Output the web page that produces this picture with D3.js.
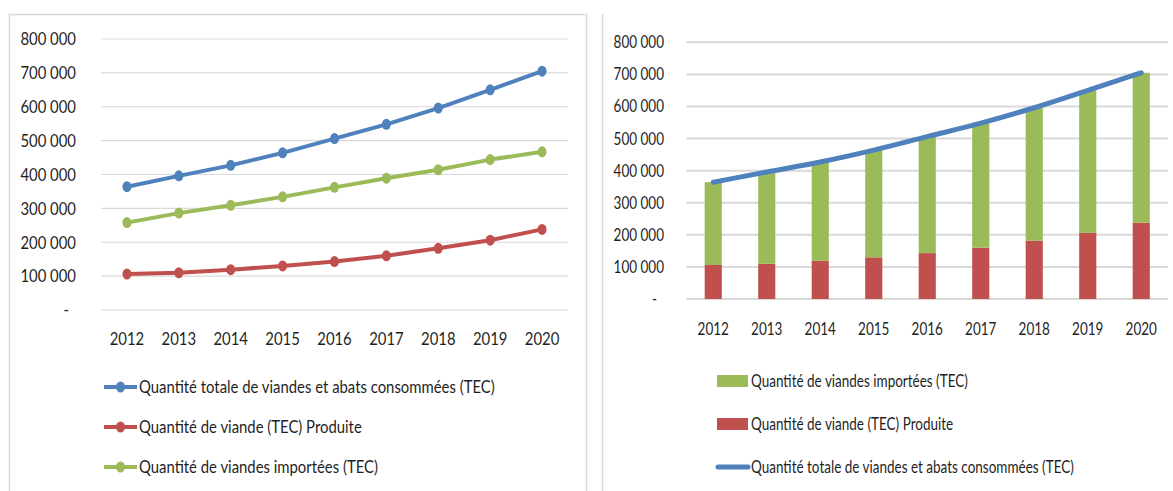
<!DOCTYPE html>
<html>
<head>
<meta charset="utf-8">
<script src="https://cdn.jsdelivr.net/npm/d3@7"></script>
<style>
  body { margin: 0; background: #fff; }
  text { font-family: Lato, "Liberation Sans", sans-serif; fill: #1f1f1f; }
</style>
</head>
<body>
<div id="chart"></div>
<script>
// Data
var years = ["2012", "2013", "2014", "2015", "2016", "2017", "2018", "2019", "2020"];
var totalConsumed = [364000, 396000, 427000, 464000, 506000, 548000, 596000, 650000, 705000];
var produced = [106000, 110000, 119000, 130000, 143000, 160000, 182000, 206000, 238000];
var imported = [258000, 286000, 309000, 334000, 362000, 389000, 414000, 444000, 467000];
var yTicks = [0, 100000, 200000, 300000, 400000, 500000, 600000, 700000, 800000];

var labelTotal = "Quantité totale de viandes et abats consommées (TEC)";
var labelProduced = "Quantité de viande (TEC) Produite";
var labelImported = "Quantité de viandes importées (TEC)";

var blue = "#4f81bd", red = "#c0504d", green = "#9bbb59", grid = "#d9d9d9";

var locale = d3.formatLocale({decimal: ",", thousands: " ", grouping: [3], currency: ["", ""]});
var fmt = locale.format(",d");
function tickText(d) { return d === 0 ? "-" : fmt(d); }

var svg = d3.select('#chart').append('svg')
    .attr('width', 1173)
    .attr('height', 491);

// the source font is a squeezed narrow face: measure and squeeze ours to match
function squeezeFor(str, size, target) {
    var t = svg.append('text').style('font-size', size + 'px').text(str);
    var w = t.node().getComputedTextLength();
    t.remove();
    return target / w;
}
var sizeL = 18, sizeR = 17;
var sxL = squeezeFor(labelTotal, sizeL, 356);
var sxR = squeezeFor(labelTotal, sizeR, 323);

function addText(g, x, y, str, size, sx, anchor) {
    return g.append('text')
        .attr('transform', 'translate(' + x + ',' + y + ') scale(' + sx + ',1)')
        .attr('dy', '0.35em')
        .attr('text-anchor', anchor || 'start')
        .style('font-size', size + 'px')
        .text(str);
}

// ---------- left chart: lines with markers ----------
var left = svg.append('g');

left.append('rect')
    .attr('x', 9.5).attr('y', 14.5)
    .attr('width', 577).attr('height', 500)
    .attr('fill', 'none')
    .attr('stroke', '#d9d9d9')
    .attr('stroke-width', 1.5);

var xL = d3.scaleBand().domain(years).range([101, 568]);
var yL = d3.scaleLinear().domain([0, 800000]).range([310, 39]);

left.selectAll('.gridL')
    .data(yTicks)
    .enter()
    .append('line')
    .attr('x1', 101).attr('x2', 568)
    .attr('y1', function(d) { return yL(d); })
    .attr('y2', function(d) { return yL(d); })
    .attr('stroke', grid)
    .attr('stroke-width', 1.2);

yTicks.forEach(function(d) {
    addText(left, d === 0 ? 69 : 76, yL(d), tickText(d), sizeL, sxL, 'end');
});
years.forEach(function(d) {
    addText(left, xL(d) + xL.bandwidth() / 2, 339, d, sizeL, sxL, 'middle');
});

var leftSeries = [
    {name: labelTotal, values: totalConsumed, color: blue},
    {name: labelProduced, values: produced, color: red},
    {name: labelImported, values: imported, color: green}
];

var lineL = d3.line()
    .x(function(d, i) { return xL(years[i]) + xL.bandwidth() / 2; })
    .y(function(d) { return yL(d); });

leftSeries.forEach(function(s, k) {
    left.append('path')
        .datum(s.values)
        .attr('d', lineL)
        .attr('fill', 'none')
        .attr('stroke', s.color)
        .attr('stroke-width', 4)
        .attr('stroke-linejoin', 'round');
    left.selectAll('.dot' + k)
        .data(s.values)
        .enter()
        .append('ellipse')
        .attr('cx', function(d, i) { return xL(years[i]) + xL.bandwidth() / 2; })
        .attr('cy', function(d) { return yL(d); })
        .attr('rx', 4.5)
        .attr('ry', 5.5)
        .attr('fill', s.color);

    // legend
    var ly = 387 + k * 40;
    left.append('line')
        .attr('x1', 104).attr('x2', 137)
        .attr('y1', ly).attr('y2', ly)
        .attr('stroke', s.color)
        .attr('stroke-width', 4);
    left.append('ellipse')
        .attr('cx', 120.5).attr('cy', ly)
        .attr('rx', 4.5).attr('ry', 5.5)
        .attr('fill', s.color);
    addText(left, 139, ly, s.name, sizeL, sxL);
});

// ---------- right chart: stacked bars + total line ----------
var right = svg.append('g');

right.append('line')
    .attr('x1', 602.5).attr('x2', 602.5)
    .attr('y1', 14).attr('y2', 491)
    .attr('stroke', '#d9d9d9')
    .attr('stroke-width', 1.5);

var xR = d3.scaleBand().domain(years).range([686.5, 1168]);
var yR = d3.scaleLinear().domain([0, 800000]).range([299, 42.3]);

right.selectAll('.gridR')
    .data(yTicks)
    .enter()
    .append('line')
    .attr('x1', 686.5).attr('x2', 1168)
    .attr('y1', function(d) { return yR(d); })
    .attr('y2', function(d) { return yR(d); })
    .attr('stroke', grid)
    .attr('stroke-width', 2);

yTicks.forEach(function(d) {
    addText(right, d === 0 ? 657 : 664, yR(d), tickText(d), sizeR, sxR, 'end');
});
years.forEach(function(d) {
    addText(right, xR(d) + xR.bandwidth() / 2, 329, d, sizeR, sxR, 'middle');
});

var rows = years.map(function(y, i) {
    return {year: y, produced: produced[i], imported: imported[i]};
});
var stacked = d3.stack().keys(['produced', 'imported'])(rows);
var barColors = {produced: red, imported: green};
var barW = xR.bandwidth() * 0.32;

right.selectAll('.layer')
    .data(stacked)
    .enter()
    .append('g')
    .attr('fill', function(d) { return barColors[d.key]; })
    .selectAll('rect')
    .data(function(d) { return d; })
    .enter()
    .append('rect')
    .attr('x', function(d) { return xR(d.data.year) + (xR.bandwidth() - barW) / 2; })
    .attr('y', function(d) { return yR(d[1]); })
    .attr('width', barW)
    .attr('height', function(d) { return yR(d[0]) - yR(d[1]); });

var lineR = d3.line()
    .x(function(d, i) { return xR(years[i]) + xR.bandwidth() / 2; })
    .y(function(d) { return yR(d); })
    .curve(d3.curveMonotoneX);

right.append('path')
    .datum(totalConsumed)
    .attr('d', lineR)
    .attr('fill', 'none')
    .attr('stroke', blue)
    .attr('stroke-width', 5)
    .attr('stroke-linecap', 'round');

// legend
var rightLegend = [
    {name: labelImported, color: green, type: 'bar'},
    {name: labelProduced, color: red, type: 'bar'},
    {name: labelTotal, color: blue, type: 'line'}
];
var legendY = [381, 424, 467];

rightLegend.forEach(function(s, k) {
    var ly = legendY[k];
    if (s.type === 'bar') {
        right.append('rect')
            .attr('x', 717).attr('y', ly - 6)
            .attr('width', 31).attr('height', 12)
            .attr('fill', s.color);
    } else {
        right.append('line')
            .attr('x1', 718).attr('x2', 748)
            .attr('y1', ly).attr('y2', ly)
            .attr('stroke', s.color)
            .attr('stroke-width', 5)
            .attr('stroke-linecap', 'round');
    }
    addText(right, 751, ly, s.name, sizeR, sxR);
});
</script>
</body>
</html>
